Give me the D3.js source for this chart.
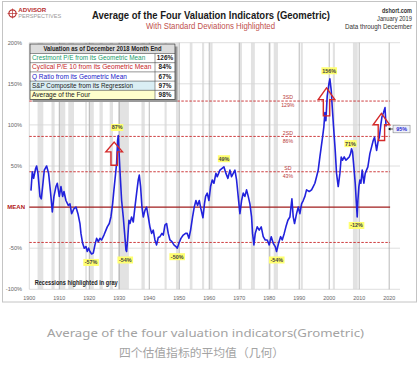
<!DOCTYPE html>
<html>
<script src="https://d3js.org/d3.v7.min.js"></script>

<head>
    <style>
        body {
            margin: 0;
            background-color: white;
        }

        svg {
            display: block;
            font-family: "Liberation Sans", Arial, sans-serif;
        }
    </style>
</head>

<body>
    <svg width="420" height="375"></svg>
</body>
<script>
    const width = 420,
        height = 375;
    const svg = d3.select("svg");

    // average of the four indicators, % above/below mean
    const avgSeries = [
        [1900.56, 20], [1901.0, 43], [1901.44, 35], [1902.11, 47], [1902.44, 50], [1902.89, 41],
        [1903.56, 13], [1904.0, 10], [1904.44, 25], [1905.0, 45], [1905.78, 50], [1906.44, 41],
        [1907.11, 17], [1907.67, -6], [1908.22, 13], [1908.89, 25], [1909.33, 29], [1910.0, 13],
        [1910.56, 25], [1911.11, 13], [1911.56, 19], [1912.22, 8], [1913.0, 2], [1913.56, 4],
        [1914.11, -8], [1914.89, -2], [1915.56, 0], [1916.22, -8], [1916.89, -20], [1917.22, -32],
        [1917.78, -44], [1918.33, -50], [1918.89, -48], [1919.33, -54], [1919.78, -50], [1920.22, -54],
        [1920.78, -57], [1921.33, -56], [1921.89, -46], [1922.44, -38], [1923.0, -42], [1923.56, -38],
        [1924.11, -40], [1924.89, -34], [1925.56, -28], [1926.0, -24], [1926.67, -20], [1927.22, -12],
        [1927.78, 4], [1928.22, 21], [1928.78, 41], [1929.11, 53], [1929.44, 81], [1929.67, 87],
        [1929.89, 69], [1930.22, 45], [1930.78, 8], [1931.33, -12], [1931.78, -32], [1932.22, -52],
        [1932.44, -54], [1932.78, -40], [1933.22, -16], [1933.56, -20], [1934.11, -12], [1934.67, -18],
        [1935.22, 0], [1935.78, 17], [1936.33, 33], [1936.67, 39], [1937.11, 25], [1937.56, 0],
        [1938.0, -12], [1938.56, -4], [1939.11, 0], [1939.67, -12], [1940.22, -24], [1940.78, -32],
        [1941.33, -28], [1941.89, -40], [1942.44, -46], [1943.0, -37], [1943.56, -36], [1944.22, -32],
        [1944.67, -34], [1945.22, -22], [1945.78, -20], [1946.33, -32], [1946.89, -40], [1947.56, -42],
        [1948.22, -46], [1948.89, -48], [1949.33, -50], [1949.89, -44], [1950.56, -38], [1951.33, -34],
        [1952.11, -32], [1952.67, -32], [1953.22, -38], [1953.78, -28], [1954.44, -12], [1955.0, 0],
        [1955.56, 8], [1956.11, 2], [1956.67, 8], [1957.22, -2], [1957.9, -13], [1958.4, 4],
        [1958.78, 13], [1959.33, 17], [1959.89, 8], [1960.44, 25], [1961.0, 33], [1961.56, 29],
        [1962.22, 41], [1962.67, 37], [1963.56, 45], [1964.89, 49], [1965.56, 41], [1966.22, 35],
        [1966.89, 45], [1967.44, 37], [1968.56, 45], [1969.11, 33], [1969.78, 8], [1970.22, -8],
        [1970.78, 8], [1971.33, 17], [1971.89, 13], [1972.44, 21], [1973.0, 13], [1973.56, 4],
        [1974.11, -12], [1974.44, -32], [1974.89, -46], [1975.33, -32], [1976.0, -24], [1976.67, -28],
        [1977.33, -24], [1978.0, -36], [1978.67, -40], [1979.33, -40], [1980.0, -46], [1980.67, -36],
        [1981.33, -44], [1982.0, -48], [1982.44, -54], [1983.11, -44], [1983.78, -36], [1984.33, -40],
        [1985.0, -32], [1985.56, -24], [1986.22, -16], [1986.89, -12], [1987.56, 10], [1988.0, -12],
        [1988.44, -20], [1989.11, -8], [1989.67, 0], [1990.22, -8], [1990.78, 4], [1991.33, 8],
        [1991.89, 13], [1992.44, 21], [1993.33, 19], [1994.11, 21], [1994.67, 25], [1995.22, 29],
        [1995.78, 37], [1996.33, 45], [1996.89, 61], [1997.33, 73], [1997.78, 85], [1998.22, 98],
        [1998.56, 115], [1998.89, 105], [1999.33, 135], [1999.89, 150], [2000.22, 156], [2000.67, 142],
        [2001.0, 122], [2001.44, 98], [2002.0, 69], [2002.44, 41], [2003.0, 25], [2003.56, 41],
        [2004.0, 61], [2004.44, 57], [2005.0, 61], [2005.56, 57], [2006.11, 59], [2006.67, 61],
        [2007.11, 65], [2007.44, 71], [2007.78, 67], [2008.22, 49], [2008.67, 29], [2009.0, 8],
        [2009.33, -12], [2009.56, 8], [2009.89, 25], [2010.22, 33], [2010.56, 29], [2011.0, 45],
        [2011.56, 29], [2012.0, 41], [2012.44, 45], [2012.89, 49], [2013.56, 65], [2014.11, 73],
        [2014.67, 81], [2015.11, 85], [2015.8, 69], [2016.3, 80], [2016.7, 85], [2017.2, 100],
        [2017.6, 110], [2018.1, 115], [2018.6, 121], [2018.95, 98]
    ];

    // NBER recessions (start, end)
    const recessions = [
        [1902.75, 1904.67], [1907.4, 1908.45], [1910.0, 1912.0], [1913.0, 1914.9],
        [1918.65, 1919.2], [1920.0, 1921.5], [1923.4, 1924.5], [1926.8, 1927.9],
        [1929.6, 1933.2], [1937.4, 1938.5], [1945.1, 1945.8], [1948.9, 1949.8],
        [1953.5, 1954.4], [1957.6, 1958.3], [1960.3, 1961.1], [1969.9, 1970.9],
        [1973.9, 1975.2], [1980.0, 1980.5], [1981.5, 1982.9], [1990.5, 1991.2],
        [2001.2, 2001.9], [2007.9, 2009.5]
    ];

    const yTicks = [-100, -50, 0, 50, 100, 150, 200];
    const yTickLabels = ["-100%", "-50%", "MEAN", "50%", "100%", "150%", "200%"];
    const xTicks = d3.range(1900, 2021, 10);

    const sdValues = [43, 86, 129, -43];
    const sdNames = ["SD", "2SD", "3SD", ""];

    // extreme points and their callouts
    const peakYears = [1929.3, 1964.9, 2000.0, 2007.1, 1920.6, 1932.0, 1949.3, 1982.5, 2009.1];
    const peakValues = [87, 49, 156, 71, -57, -54, -50, -54, -12];

    // hollow up-arrows: year, tip value, base value
    const arrowYears = [1928.3, 1999.1, 2017.4];
    const arrowTips = [79, 145, 114];
    const arrowBases = [51, 111, 81];

    const tableLabels = [
        "Crestmont P/E from its Geometric Mean",
        "Cyclical P/E 10 from its Geometric Mean",
        "Q Ratio from its Geometric Mean",
        "S&P Composite from its Regression",
        "Average of the Four"
    ];
    const tableValues = ["126%", "84%", "67%", "97%", "98%"];
    const currentValue = "95%";

    function draw() {
        const x = d3.scaleLinear().domain([1900, 2023.6]).range([29.3, 400]);
        const y = d3.scaleLinear().domain([-100, 200]).range([289.3, 42.7]);
        const lineEnd = x(2020.3);

        // frame
        svg.append("rect")
            .attr("x", 2.5).attr("y", 1.5)
            .attr("width", 414).attr("height", 300.5)
            .attr("fill", "white")
            .attr("stroke", "#c4c4c4");

        // recession bands
        svg.selectAll(".rec").data(recessions).enter().append("rect")
            .attr("x", d => x(d[0]))
            .attr("width", d => x(d[1]) - x(d[0]))
            .attr("y", y(200))
            .attr("height", y(-100) - y(200))
            .attr("fill", "#e2e2e2");

        // horizontal grid
        yTicks.filter(d => d != 0).forEach(d => {
            svg.append("line")
                .attr("x1", x(1900)).attr("x2", x(2023.6))
                .attr("y1", y(d)).attr("y2", y(d))
                .attr("stroke", "#d6d6d6").attr("stroke-width", 0.8);
        });
        // decade lines
        xTicks.forEach(d => {
            svg.append("line")
                .attr("x1", x(d)).attr("x2", x(d))
                .attr("y1", y(200)).attr("y2", y(-100))
                .attr("stroke", d == 1900 ? "#cfcfcf" : "#a8a8a8").attr("stroke-width", 0.8);
        });

        // y labels
        yTicks.forEach((d, i) => {
            const mean = d == 0;
            svg.append("text")
                .attr("x", mean ? 25 : 22)
                .attr("y", y(d) + 2)
                .attr("text-anchor", "end")
                .attr("font-size", mean ? 6 : 5.6)
                .attr("font-weight", mean ? "bold" : "normal")
                .attr("fill", mean ? "#b01818" : "#666")
                .text(yTickLabels[i]);
        });
        // x labels
        xTicks.forEach(d => {
            svg.append("text")
                .attr("x", x(d))
                .attr("y", 299.5)
                .attr("text-anchor", "middle")
                .attr("font-size", 5.4)
                .attr("fill", "#666")
                .text(d);
        });

        // SD lines
        sdValues.forEach((d, i) => {
            svg.append("line")
                .attr("x1", x(1900)).attr("x2", lineEnd)
                .attr("y1", y(d)).attr("y2", y(d))
                .attr("stroke", "#c8282a").attr("stroke-width", 0.9)
                .attr("stroke-dasharray", "2.5,1.5");
            if (sdNames[i] != "") {
                svg.append("text")
                    .attr("x", x(1986.2)).attr("y", y(d) - 1.6)
                    .attr("text-anchor", "middle").attr("font-size", 5.2)
                    .attr("fill", "#b83a3a")
                    .text(sdNames[i]);
                svg.append("text")
                    .attr("x", x(1986.2)).attr("y", y(d) + 6.3)
                    .attr("text-anchor", "middle").attr("font-size", 5.2)
                    .attr("fill", "#b83a3a")
                    .text(d + "%");
            }
        });

        // mean line
        svg.append("line")
            .attr("x1", x(1900)).attr("x2", lineEnd)
            .attr("y1", y(0)).attr("y2", y(0))
            .attr("stroke", "#a01c1c").attr("stroke-width", 1.4);

        // the series
        svg.append("path")
            .datum(avgSeries)
            .attr("fill", "none")
            .attr("stroke", "#2222dc")
            .attr("stroke-width", 1.6)
            .attr("stroke-linejoin", "round")
            .attr("d", d3.line().x(d => x(d[0])).y(d => y(d[1])));

        // hollow arrows
        arrowYears.forEach((yr, i) => {
            const cx = x(yr), ty = y(arrowTips[i]), by = y(arrowBases[i]);
            const hb = ty + (by - ty) * 0.42;
            const hw = 8.3, sw = 3.2;
            const pts = [[cx, ty], [cx + hw, hb], [cx + sw, hb], [cx + sw, by],
                [cx - sw, by], [cx - sw, hb], [cx - hw, hb]];
            svg.append("path")
                .attr("d", d3.line()(pts) + "Z")
                .attr("fill", "none")
                .attr("stroke", "#d42a2a")
                .attr("stroke-width", 1.4)
                .attr("stroke-linejoin", "miter");
        });

        // peak callouts
        peakYears.forEach((yr, i) => {
            const v = peakValues[i];
            let ly = y(v) + (v < 0 ? 8.6 : -8);
            if (v == 71) ly = y(v) - 5;
            const label = v + "%";
            const w = label.length * 3.4 + 2;
            svg.append("rect")
                .attr("x", x(yr) - w / 2).attr("y", ly - 3.6)
                .attr("width", w).attr("height", 7)
                .attr("fill", "#ffff70");
            svg.append("text")
                .attr("x", x(yr)).attr("y", ly + 1.9)
                .attr("text-anchor", "middle")
                .attr("font-size", 5.4).attr("font-weight", "bold")
                .attr("fill", "#444")
                .text(label);
        });

        // current value box
        const last = avgSeries[avgSeries.length - 1];
        const bx = x(last[0]) + 7, byy = y(95);
        svg.append("line")
            .attr("x1", bx).attr("x2", bx - 3.5)
            .attr("y1", byy).attr("y2", byy)
            .attr("stroke", "black").attr("stroke-width", 0.7);
        svg.append("path")
            .attr("d", `M${bx - 5},${byy} L${bx - 2.6},${byy - 1.4} L${bx - 2.6},${byy + 1.4} Z`)
            .attr("fill", "black");
        svg.append("rect")
            .attr("x", bx).attr("y", byy - 3.8)
            .attr("width", 17).attr("height", 7.6)
            .attr("fill", "#eef0fa").attr("stroke", "#888").attr("stroke-width", 0.6);
        svg.append("text")
            .attr("x", bx + 8.5).attr("y", byy + 2)
            .attr("text-anchor", "middle")
            .attr("font-size", 5.4).attr("font-weight", "bold")
            .attr("fill", "#2a2ad0")
            .text(currentValue);

        // recession note
        svg.append("text")
            .attr("x", 34.7).attr("y", 285)
            .attr("font-size", 6.4).attr("font-weight", "bold")
            .attr("fill", "#222")
            .attr("textLength", 83).attr("lengthAdjust", "spacingAndGlyphs")
            .text("Recessions highlighted in gray");

        // valuation table
        const tx = 30, ty0 = 44, tw = 145, hh = 9.5, rh = 9.2, vx = 155;
        const rowFill = ["white", "white", "white", "#daeef4", "#ffffcc"];
        const rowColor = ["#1a9e6c", "#c6262a", "#2020c8", "#222", "#222"];
        svg.append("rect")
            .attr("x", tx + 2.5).attr("y", ty0 + 2.5)
            .attr("width", tw).attr("height", hh + rh * 5)
            .attr("fill", "#9a9a9a");
        svg.append("rect")
            .attr("x", tx).attr("y", ty0)
            .attr("width", tw).attr("height", hh)
            .attr("fill", "#dcdcdc");
        svg.append("text")
            .attr("x", tx + tw / 2).attr("y", ty0 + 6.8)
            .attr("text-anchor", "middle")
            .attr("font-size", 6.6).attr("font-weight", "bold")
            .attr("fill", "#222")
            .attr("textLength", 118).attr("lengthAdjust", "spacingAndGlyphs")
            .text("Valuation as of December 2018 Month End");
        tableLabels.forEach((lab, i) => {
            const ry = ty0 + hh + rh * i;
            svg.append("rect")
                .attr("x", tx).attr("y", ry)
                .attr("width", vx - tx).attr("height", rh)
                .attr("fill", rowFill[i]);
            svg.append("rect")
                .attr("x", vx).attr("y", ry)
                .attr("width", tx + tw - vx).attr("height", rh)
                .attr("fill", "white");
            svg.append("text")
                .attr("x", tx + 2).attr("y", ry + 6.6)
                .attr("font-size", 6.6)
                .attr("fill", rowColor[i])
                .attr("textLength", lab.length * 3.06).attr("lengthAdjust", "spacingAndGlyphs")
                .text(lab);
            svg.append("text")
                .attr("x", (vx + tx + tw) / 2).attr("y", ry + 6.6)
                .attr("text-anchor", "middle")
                .attr("font-size", 6.4).attr("font-weight", "bold")
                .attr("fill", "#222")
                .text(tableValues[i]);
            svg.append("line")
                .attr("x1", tx).attr("x2", tx + tw)
                .attr("y1", ry).attr("y2", ry)
                .attr("stroke", "#555").attr("stroke-width", 0.6);
        });
        svg.append("line")
            .attr("x1", vx).attr("x2", vx)
            .attr("y1", ty0 + hh).attr("y2", ty0 + hh + rh * 5)
            .attr("stroke", "#555").attr("stroke-width", 0.6);
        svg.append("rect")
            .attr("x", tx).attr("y", ty0)
            .attr("width", tw).attr("height", hh + rh * 5)
            .attr("fill", "none").attr("stroke", "#444").attr("stroke-width", 0.8);

        // titles
        svg.append("text")
            .attr("x", 211).attr("y", 19)
            .attr("text-anchor", "middle")
            .attr("font-size", 10.5).attr("font-weight", "bold")
            .attr("fill", "#1a1a1a")
            .attr("textLength", 238).attr("lengthAdjust", "spacingAndGlyphs")
            .text("Average of the Four Valuation Indicators (Geometric)");
        svg.append("text")
            .attr("x", 210.5).attr("y", 29)
            .attr("text-anchor", "middle")
            .attr("font-size", 8.2)
            .attr("fill", "#c0504d")
            .attr("textLength", 129).attr("lengthAdjust", "spacingAndGlyphs")
            .text("With Standard Deviations Highlighted");

        // source block
        const src = [["dshort.com", 13, 30, "bold"], ["January 2019", 21, 35, "normal"], ["Data through December", 29, 67, "normal"]];
        src.forEach(s => {
            svg.append("text")
                .attr("x", 412).attr("y", s[1])
                .attr("text-anchor", "end")
                .attr("font-size", 6.3).attr("font-weight", s[3])
                .attr("fill", "#333")
                .attr("textLength", s[2]).attr("lengthAdjust", "spacingAndGlyphs")
                .text(s[0]);
        });

        // logo
        svg.append("circle").attr("cx", 12.5).attr("cy", 13.5).attr("r", 3.6)
            .attr("fill", "none").attr("stroke", "#b83030").attr("stroke-width", 1.2);
        svg.append("path").attr("d", "M12.5,8.5 V18.5 M7.5,13.5 H17.5")
            .attr("stroke", "#b83030").attr("stroke-width", 0.7);
        svg.append("text")
            .attr("x", 18.3).attr("y", 12.3)
            .attr("font-size", 6.2).attr("font-weight", "bold")
            .attr("fill", "#b83030")
            .attr("textLength", 28).attr("lengthAdjust", "spacingAndGlyphs")
            .text("ADVISOR");
        svg.append("text")
            .attr("x", 18.3).attr("y", 17.6)
            .attr("font-size", 5.4)
            .attr("fill", "#9a9a9a")
            .attr("textLength", 43).attr("lengthAdjust", "spacingAndGlyphs")
            .text("PERSPECTIVES");

        // captions below the plate
        svg.append("text")
            .attr("x", 205.5).attr("y", 336.5)
            .attr("text-anchor", "middle")
            .attr("font-family", "'Noto Sans', sans-serif")
            .attr("font-size", 11.5)
            .attr("fill", "#a3a3a3")
            .attr("textLength", 317).attr("lengthAdjust", "spacingAndGlyphs")
            .text("Average of the four valuation indicators(Grometric)");
        svg.append("text")
            .attr("x", 201.5).attr("y", 356.5)
            .attr("text-anchor", "middle")
            .attr("font-family", "'Noto Sans CJK SC', sans-serif")
            .attr("font-size", 11.8)
            .attr("fill", "#a3a3a3")
            .text("四个估值指标的平均值（几何）");
    }

    draw();
</script>

</html>
